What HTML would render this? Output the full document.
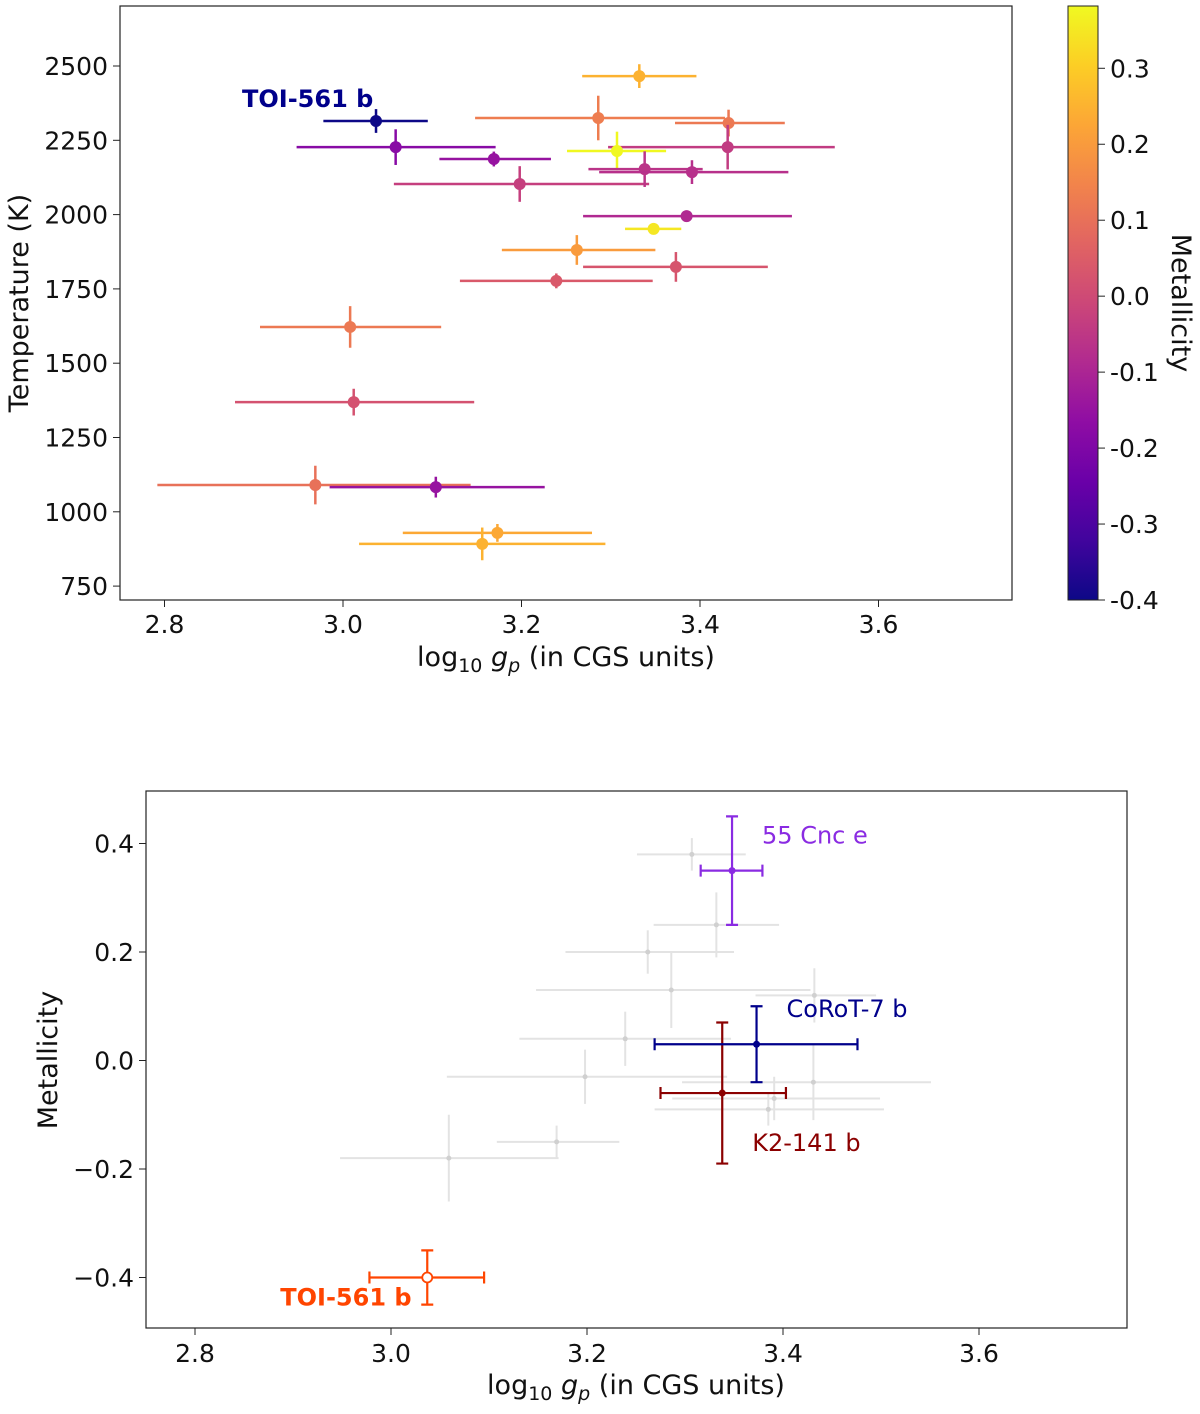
<!DOCTYPE html>
<html><head><meta charset="utf-8"><style>
body{margin:0;background:#fff;}
svg text{font-family:"DejaVu Sans","Liberation Sans",sans-serif;}
</style></head><body>
<svg id="fig" width="1200" height="1409" xmlns="http://www.w3.org/2000/svg">
<defs><linearGradient id="plasma" x1="0" y1="1" x2="0" y2="0">
<stop offset="0" stop-color="#0d0887"/><stop offset="0.1" stop-color="#41049d"/><stop offset="0.2" stop-color="#6a00a8"/><stop offset="0.3" stop-color="#8f0da4"/><stop offset="0.4" stop-color="#b12a90"/><stop offset="0.5" stop-color="#cc4778"/><stop offset="0.6" stop-color="#e16462"/><stop offset="0.7" stop-color="#f2844b"/><stop offset="0.8" stop-color="#fca636"/><stop offset="0.9" stop-color="#fcce25"/><stop offset="1" stop-color="#f0f921"/></linearGradient></defs>
</svg>
<script>
// top panel data
const logg   =[3.037,3.059,3.169,3.198,3.286,3.332,3.432,3.431,3.307,3.338,3.391,3.385,3.348,3.262,3.373,3.239,3.008,3.012,2.969,3.104,3.173,3.156];
const loggLo =[0.059,0.111,0.061,0.141,0.138,0.064,0.060,0.134,0.056,0.063,0.104,0.116,0.032,0.084,0.104,0.108,0.101,0.133,0.177,0.119,0.106,0.138];
const loggHi =[0.058,0.112,0.064,0.145,0.142,0.064,0.063,0.120,0.055,0.065,0.108,0.118,0.031,0.088,0.103,0.108,0.102,0.135,0.174,0.122,0.106,0.138];
const temp   =[2315,2227,2187,2103,2325,2466,2308,2227,2214,2153,2143,1995,1952,1881,1824,1777,1622,1369,1090,1083,929,892];
const tempErr=[40,60,25,60,75,40,45,75,65,60,40,15,10,50,50,25,70,45,65,35,30,55];
const metal  =[-0.40,-0.18,-0.15,-0.03,0.13,0.25,0.12,-0.04,0.38,-0.06,-0.07,-0.09,0.35,0.20,0.03,0.04,0.12,0.02,0.10,-0.15,0.23,0.25];
const metErr =[0.05,0.08,0.03,0.05,0.07,0.06,0.05,0.07,0.03,0.13,0.04,0.03,0.10,0.04,0.07,0.05,0.05,0.05,0.05,0.05,0.05,0.05];
const inBottom=[1,1,1,1,1,1,1,1,1,1,1,1,1,1,1,1,0,0,0,0,0,0];
const highlight=[0,-1,-1,-1,-1,-1,-1,-1,-1,3,-1,-1,1,-1,2,-1,-1,-1,-1,-1,-1,-1];
const hlNames=["TOI-561 b","55 Cnc e","CoRoT-7 b","K2-141 b"];
const hlColors=["#ff4500","#8a2be2","#00008b","#8b0000"];
const xTicks=[2.8,3.0,3.2,3.4,3.6];
const tTicks=[750,1000,1250,1500,1750,2000,2250,2500];
const cTicks=[-0.4,-0.3,-0.2,-0.1,0.0,0.1,0.2,0.3];
const mTicks=[-0.4,-0.2,0.0,0.2,0.4];

const svg=document.getElementById('fig');
const NS='http://www.w3.org/2000/svg';
function el(t,a,txt){const e=document.createElementNS(NS,t);for(const k in a)e.setAttribute(k,a[k]);if(txt!==undefined)e.textContent=txt;svg.appendChild(e);return e;}
const stops=[[13,8,135],[65,4,157],[106,0,168],[143,13,164],[177,42,144],[204,71,120],[225,100,98],[242,132,75],[252,166,54],[252,206,37],[240,249,33]];
const vmin=-0.4,vmax=0.382;
function plasma(v){let t=Math.max(0,Math.min(1,(v-vmin)/(vmax-vmin)))*10;let i=Math.min(9,Math.floor(t));let f=t-i;const a=stops[i],b=stops[i+1];return 'rgb('+a.map((c,k)=>Math.round(c+(b[k]-c)*f)).join(',')+')';}
const TS=25, LS=27;
// top axes
const X1=v=>343+(v-3.0)*892.5, Y1=v=>66+(2500-v)*0.2972;
let e;
e=el('rect',{x:120,y:6,width:892,height:594,fill:'none',stroke:'#222','stroke-width':1.2});

xTicks.forEach(t=>{e=el('line',{x1:X1(t),x2:X1(t),y1:600,y2:607,stroke:'#222'});
 e=el('text',{x:X1(t),y:633,'font-size':TS,'text-anchor':'middle',fill:'#111'},t.toFixed(1));});
tTicks.forEach(t=>{e=el('line',{x1:113,x2:120,y1:Y1(t),y2:Y1(t),stroke:'#222'});
 e=el('text',{x:108,y:Y1(t)+9,'font-size':TS,'text-anchor':'end',fill:'#111'},t);});
e=el('text',{x:566,y:666,'font-size':LS,'text-anchor':'middle',fill:'#111'});e.innerHTML='log<tspan font-size="19" dy="6">10</tspan><tspan dy="-6"> </tspan><tspan font-style="italic">g</tspan><tspan font-style="italic" font-size="19" dy="6">p</tspan><tspan dy="-6"> (in CGS units)</tspan>';

e=el('text',{x:28,y:303,'font-size':LS,'text-anchor':'middle',fill:'#111',transform:'rotate(-90 28 303)'},'Temperature (K)');

for(let i=0;i<logg.length;i++){const c=plasma(metal[i]),x=X1(logg[i]),y=Y1(temp[i]);
 e=el('line',{x1:X1(logg[i]-loggLo[i]),x2:X1(logg[i]+loggHi[i]),y1:y,y2:y,stroke:c,'stroke-width':2.5});
 e=el('line',{x1:x,x2:x,y1:Y1(temp[i]-tempErr[i]),y2:Y1(temp[i]+tempErr[i]),stroke:c,'stroke-width':2.5});
 e=el('circle',{cx:x,cy:y,r:6,fill:c});}
e=el('text',{x:X1(logg[0])-134,y:Y1(temp[0])-14,'font-size':24,'font-weight':'bold',fill:'#00008b'},'TOI-561 b');

// colorbar
const CY=v=>6+(vmax-v)/(vmax-vmin)*594;
e=el('rect',{x:1068,y:6,width:30,height:594,fill:'url(#plasma)',stroke:'#222','stroke-width':1});

cTicks.forEach(t=>{e=el('line',{x1:1098,x2:1105,y1:CY(t),y2:CY(t),stroke:'#222'});
 e=el('text',{x:1110,y:CY(t)+9,'font-size':TS,fill:'#111'},t.toFixed(1));});
e=el('text',{x:1172,y:303,'font-size':LS,'text-anchor':'middle',fill:'#111',transform:'rotate(90 1172 303)'},'Metallicity');

// bottom axes
const X2=v=>391+(v-3.0)*980, Y2=v=>1060.5-v*542.5;
e=el('rect',{x:146,y:791,width:981,height:537,fill:'none',stroke:'#222','stroke-width':1.2});

xTicks.forEach(t=>{e=el('line',{x1:X2(t),x2:X2(t),y1:1328,y2:1335,stroke:'#222'});
 e=el('text',{x:X2(t),y:1362,'font-size':TS,'text-anchor':'middle',fill:'#111'},t.toFixed(1));});
mTicks.forEach(t=>{e=el('line',{x1:139,x2:146,y1:Y2(t),y2:Y2(t),stroke:'#222'});
 e=el('text',{x:134,y:Y2(t)+9,'font-size':TS,'text-anchor':'end',fill:'#111'},(t<0?'\u2212':'')+Math.abs(t).toFixed(1));});
e=el('text',{x:636,y:1394,'font-size':LS,'text-anchor':'middle',fill:'#111'});e.innerHTML='log<tspan font-size="19" dy="6">10</tspan><tspan dy="-6"> </tspan><tspan font-style="italic">g</tspan><tspan font-style="italic" font-size="19" dy="6">p</tspan><tspan dy="-6"> (in CGS units)</tspan>';

e=el('text',{x:57,y:1060,'font-size':LS,'text-anchor':'middle',fill:'#111',transform:'rotate(-90 57 1060)'},'Metallicity');

for(let i=0;i<logg.length;i++){if(!inBottom[i]||highlight[i]>=0)continue;const x=X2(logg[i]),y=Y2(metal[i]);
 e=el('line',{x1:X2(logg[i]-loggLo[i]),x2:X2(logg[i]+loggHi[i]),y1:y,y2:y,stroke:'#e3e3e3','stroke-width':2});
 e=el('line',{x1:x,x2:x,y1:Y2(metal[i]-metErr[i]),y2:Y2(metal[i]+metErr[i]),stroke:'#e3e3e3','stroke-width':2});
 e=el('circle',{cx:x,cy:y,r:2.5,fill:'#d0d0d0'});}
const lblOff=[[-147,28],[30,-27],[30,-27],[30,58]];
for(let i=0;i<logg.length;i++){const h=highlight[i];if(h<0)continue;const c=hlColors[h],x=X2(logg[i]),y=Y2(metal[i]);
 const x1=X2(logg[i]-loggLo[i]),x2=X2(logg[i]+loggHi[i]),y1=Y2(metal[i]-metErr[i]),y2=Y2(metal[i]+metErr[i]);
 e=el('path',{d:`M${x1},${y}H${x2}M${x1},${y-6}V${y+6}M${x2},${y-6}V${y+6}`,stroke:c,'stroke-width':2.2,fill:'none'});
 e=el('path',{d:`M${x},${y1}V${y2}M${x-6},${y1}H${x+6}M${x-6},${y2}H${x+6}`,stroke:c,'stroke-width':2.2,fill:'none'});
 if(h===0){e=el('circle',{cx:x,cy:y,r:5,fill:'#fff',stroke:c,'stroke-width':1.8});}else{e=el('circle',{cx:x,cy:y,r:3.5,fill:c});}
 
 e=el('text',{x:x+lblOff[h][0],y:y+lblOff[h][1],'font-size':24,'font-weight':h===0?'bold':'normal',fill:c},hlNames[h]);
 }
</script>
</body></html>
